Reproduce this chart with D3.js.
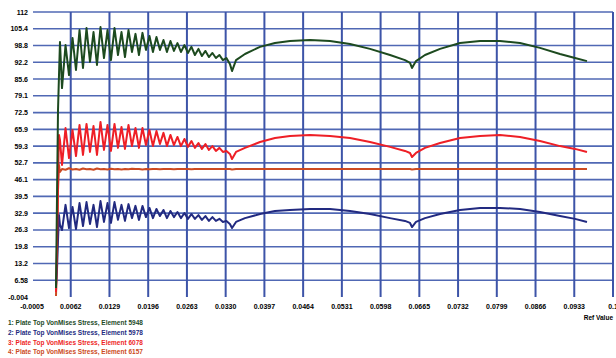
<!DOCTYPE html>
<html>
<head>
<meta charset="utf-8">
<script src="https://cdn.jsdelivr.net/npm/d3@7"></script>
<style>
  body { margin: 0; background: #fff; }
  #chart text { font-family: 'Liberation Sans', Arial, sans-serif; font-weight: bold; }
</style>
</head>
<body>
<div id="chart"></div>
<script>
// sample times (Ref Value)
const time = [
  0.00365, 0.00382, 0.00400, 0.00417, 0.00434,
  0.00469, 0.00530, 0.00590, 0.00651, 0.00711, 0.00772, 0.00832, 0.00893, 0.00953, 0.01014,
  0.01074, 0.01135, 0.01195, 0.01256, 0.01316, 0.01377, 0.01437, 0.01498, 0.01558, 0.01619,
  0.01679, 0.01740, 0.01800, 0.01861, 0.01921, 0.01982, 0.02042, 0.02103, 0.02163, 0.02224,
  0.02284, 0.02345, 0.02405, 0.02466, 0.02526, 0.02587, 0.02647, 0.02708, 0.02768, 0.02829,
  0.02889, 0.02950, 0.03010, 0.03071, 0.03131, 0.03192, 0.03252, 0.03313, 0.03373,
  0.03410, 0.03479, 0.03634, 0.03894, 0.04153, 0.04413, 0.04759, 0.05105, 0.05451, 0.05797,
  0.06143, 0.06402, 0.06489, 0.06523, 0.06592, 0.06748, 0.07008, 0.07354, 0.07700, 0.08045,
  0.08391, 0.08737, 0.09083, 0.09343, 0.09550
];

const element5948 = [
  3.5, 38.1, 73.5, 87.2, 100.2,
  82.1, 99.0, 87.2, 101.8, 89.2, 104.9, 90.0, 105.7, 92.4, 104.1,
  91.2, 106.1, 93.9, 104.9, 93.1, 105.7, 95.1, 104.1, 94.3, 104.9,
  96.3, 103.4, 95.1, 103.8, 97.1, 102.6, 96.3, 102.2, 97.1, 101.0,
  96.3, 100.6, 96.7, 99.8, 96.3, 99.0, 95.9, 98.3, 95.1, 97.5,
  94.7, 96.7, 94.3, 95.9, 93.9, 95.1, 93.1, 93.9, 91.6,
  88.8, 93.1, 95.5, 98.3, 99.8, 100.6, 101.0, 100.6, 99.4, 97.5,
  95.1, 93.1, 92.0, 90.0, 92.7, 95.1, 97.5, 99.8, 100.6, 100.6,
  99.8, 97.9, 95.5, 93.9, 92.7
];

const element5978 = [
  4.3, 10.6, 22.4, 32.2, 28.3,
  26.3, 36.2, 27.1, 35.4, 26.7, 36.9, 27.9, 37.3, 28.7, 36.2,
  27.5, 37.7, 29.5, 36.9, 29.1, 37.3, 30.3, 36.2, 29.9, 36.5,
  31.0, 35.8, 30.3, 35.8, 31.4, 35.0, 31.0, 34.6, 31.8, 34.2,
  31.0, 33.8, 31.4, 33.4, 31.0, 33.0, 30.7, 32.6, 30.7, 32.2,
  30.3, 31.8, 29.9, 31.4, 29.9, 30.7, 29.5, 29.9, 28.7,
  27.1, 29.5, 31.0, 32.6, 33.8, 34.2, 34.6, 34.6, 33.8, 32.6,
  31.0, 29.9, 29.1, 27.5, 29.5, 31.0, 32.6, 34.2, 35.0, 35.0,
  34.6, 33.4, 31.8, 30.7, 29.5
];

const element6078 = [
  2.0, 18.5, 46.0, 63.7, 61.7,
  51.9, 66.4, 54.6, 65.6, 55.4, 67.6, 55.8, 68.0, 57.0, 67.2,
  55.8, 68.8, 57.8, 67.6, 57.4, 68.0, 58.6, 66.8, 58.2, 67.6,
  59.3, 66.4, 58.6, 66.4, 59.7, 65.6, 59.3, 65.2, 60.1, 64.5,
  59.3, 63.7, 59.7, 62.9, 59.3, 62.1, 59.0, 61.3, 58.6, 60.5,
  58.2, 60.1, 57.8, 59.3, 57.4, 58.6, 57.0, 57.4, 56.2,
  54.2, 57.0, 58.6, 60.9, 62.5, 63.3, 63.7, 63.3, 62.5, 60.9,
  59.0, 57.4, 56.6, 55.0, 56.6, 58.6, 60.5, 62.5, 63.3, 63.7,
  62.9, 61.3, 59.3, 58.2, 57.0
];

const element6157 = [
  0.4, 14.5, 42.1, 51.9, 49.1,
  50.3, 50.0, 50.6, 50.1, 50.3, 50.0, 50.5, 50.2, 50.3, 50.0,
  50.5, 50.2, 50.3, 50.1, 50.4, 50.2, 50.3, 50.1, 50.3, 50.2,
  50.4, 50.3, 50.3, 50.1, 50.3, 50.2, 50.3, 50.3, 50.2, 50.3,
  50.3, 50.3, 50.2, 50.3, 50.3, 50.3, 50.3, 50.2, 50.3, 50.3,
  50.3, 50.3, 50.3, 50.3, 50.3, 50.3, 50.3, 50.3, 50.3,
  50.1, 50.3, 50.3, 50.3, 50.3, 50.3, 50.3, 50.3, 50.3, 50.3,
  50.3, 50.3, 50.3, 50.1, 50.3, 50.3, 50.3, 50.3, 50.3, 50.3,
  50.3, 50.3, 50.3, 50.3, 50.3
];

const yTickValues = [-0.004, 6.585, 13.17, 19.76, 26.35, 32.94, 39.53, 46.12, 52.70,
  59.29, 65.88, 72.47, 79.06, 85.65, 92.24, 98.82, 105.41, 112];
const yTickLabels = ['-0.004', '6.58', '13.2', '19.8', '26.3', '32.9', '39.5', '46.1', '52.7',
  '59.3', '65.9', '72.5', '79.1', '85.6', '92.2', '98.8', '105.4', '112'];

const xTickValues = [-0.0005, 0.0062, 0.0129, 0.0196, 0.0263, 0.0330, 0.0397, 0.0464,
  0.0531, 0.0598, 0.0665, 0.0732, 0.0799, 0.0866, 0.0933, 0.1];
const xTickLabels = ['-0.0005', '0.0062', '0.0129', '0.0196', '0.0263', '0.0330', '0.0397', '0.0464',
  '0.0531', '0.0598', '0.0665', '0.0732', '0.0799', '0.0866', '0.0933', '0.1'];

const seriesNames = [
  '1: Plate Top VonMises Stress, Element 5948',
  '2: Plate Top VonMises Stress, Element 5978',
  '3: Plate Top VonMises Stress, Element 6078',
  '4: Plate Top VonMises Stress, Element 6157'
];
const seriesColors = ['#1d4a1f', '#222a80', '#ee1f26', '#cc4a22'];
const seriesValues = [element5948, element5978, element6078, element6157];

const width = 616;
const height = 358;
const margin = { top: 12, right: 3, bottom: 61, left: 32 };

const svg = d3.select('#chart').append('svg')
  .attr('width', width)
  .attr('height', height);

const x = d3.scaleLinear()
  .domain([xTickValues[0], xTickValues[xTickValues.length - 1]])
  .range([margin.left, width - margin.right]);
const y = d3.scaleLinear()
  .domain([yTickValues[0], yTickValues[yTickValues.length - 1]])
  .range([height - margin.bottom, margin.top]);

// horizontal grid (no line on the bottom value)
svg.append('g')
  .selectAll('line')
  .data(yTickValues.slice(1))
  .enter()
  .append('line')
  .attr('x1', x.range()[0] + 1)
  .attr('x2', x.range()[1])
  .attr('y1', d => y(d))
  .attr('y2', d => y(d))
  .attr('stroke', '#5068b4')
  .attr('stroke-width', 1.6);

// vertical grid
svg.append('g')
  .selectAll('line')
  .data(xTickValues.slice(1))
  .enter()
  .append('line')
  .attr('x1', d => x(d))
  .attr('x2', d => x(d))
  .attr('y1', y.range()[1])
  .attr('y2', y.range()[0])
  .attr('stroke', '#3d54a8')
  .attr('stroke-width', 2);

// y labels
svg.append('g')
  .selectAll('text')
  .data(yTickValues)
  .enter()
  .append('text')
  .attr('x', margin.left - 4)
  .attr('y', d => y(d) + 2.5)
  .attr('text-anchor', 'end')
  .attr('font-size', 7)
  .text((d, i) => yTickLabels[i]);

// x labels
svg.append('g')
  .selectAll('text')
  .data(xTickValues)
  .enter()
  .append('text')
  .attr('x', d => x(d))
  .attr('y', y.range()[0] + 12)
  .attr('text-anchor', 'middle')
  .attr('font-size', 7)
  .text((d, i) => xTickLabels[i]);

svg.append('text')
  .attr('x', width - 3)
  .attr('y', y.range()[0] + 23)
  .attr('text-anchor', 'end')
  .attr('font-size', 6.5)
  .text('Ref Value');

// series, last one drawn first so green ends on top
const line = d3.line()
  .x((d, i) => x(time[i]))
  .y(d => y(d));

const order = [3, 1, 2, 0];
svg.append('g')
  .selectAll('path')
  .data(order)
  .enter()
  .append('path')
  .attr('d', k => line(seriesValues[k]))
  .attr('fill', 'none')
  .attr('stroke', k => seriesColors[k])
  .attr('stroke-width', 2)
  .attr('stroke-linejoin', 'round');

// legend
svg.append('g')
  .selectAll('text')
  .data(seriesNames)
  .enter()
  .append('text')
  .attr('x', 8)
  .attr('y', (d, i) => 325 + i * 9.8)
  .attr('font-size', 6.5)
  .attr('fill', (d, i) => seriesColors[i])
  .text(d => d);
</script>
</body>
</html>
